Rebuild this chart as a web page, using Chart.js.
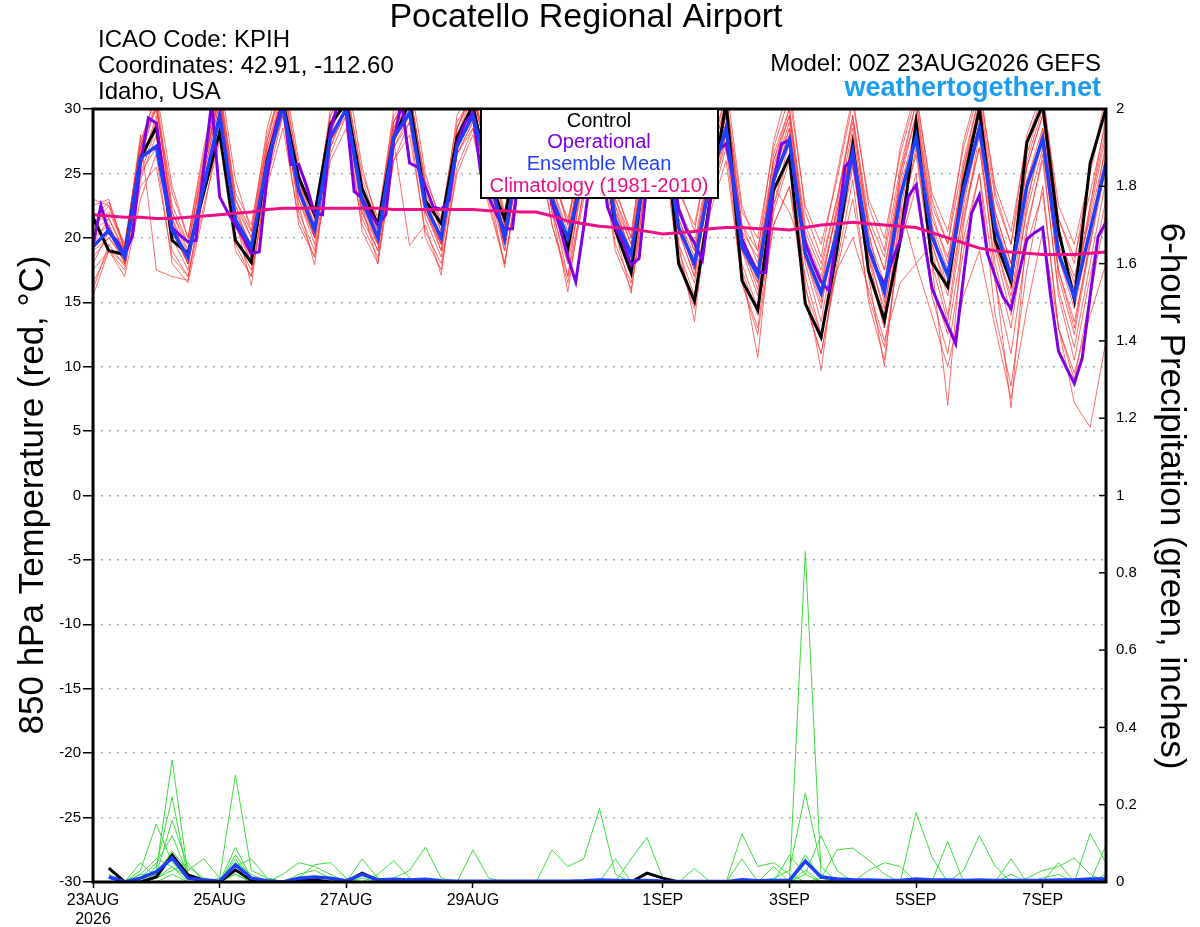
<!DOCTYPE html>
<html>
<head>
<meta charset="utf-8">
<script src="https://cdn.jsdelivr.net/npm/chart.js@4.4.1/dist/chart.umd.min.js"></script>
<style>
  html, body { margin: 0; padding: 0; background: #fff; }
  #wrap { width: 1200px; height: 927px; }
</style>
</head>
<body>
<div id="wrap"><canvas id="mycanvas" width="1200" height="927"></canvas></div>
<script>
// 6-hourly steps from 00Z 23AUG2026 (hours since start = index * 6)
var xTickHours = [0, 48, 96, 144, 216, 264, 312, 360];
var xTickLabels = [['23AUG', '2026'], '25AUG', '27AUG', '29AUG', '1SEP', '3SEP', '5SEP', '7SEP'];

// 850 hPa temperature, deg C
var control = [21.6,19.0,18.7,26.2,28.6,19.8,18.8,23.5,28.2,19.8,18.1,26.0,30.5,24.7,21.8,28.8,30.5,23.8,21.0,27.8,30.5,22.9,21.1,27.8,30.3,24.5,21.5,28.0,30.5,22.9,19.2,26.0,30.5,20.6,17.3,27.0,30.5,18.0,15.1,23.0,30.5,16.7,14.4,23.7,26.3,14.9,12.3,19.0,27.2,17.4,13.6,19.8,29.0,18.1,16.2,24.3,30.0,19.8,16.6,27.4,30.3,20.6,15.2,25.8,30.0];
var ensMean = [19.3,20.6,18.5,26.2,27.1,20.6,18.5,24.0,29.5,21.4,19.3,25.8,30.2,23.7,20.6,27.8,30.0,22.9,20.0,27.8,29.7,22.5,20.0,27.1,29.5,25.0,20.0,27.0,29.5,23.0,20.0,25.0,29.0,21.4,18.7,26.0,29.0,20.8,18.0,24.5,28.5,19.3,17.1,24.5,27.6,18.8,15.7,20.4,26.7,19.3,15.8,23.2,27.8,20.1,17.1,23.7,28.5,20.8,17.0,24.0,27.7,18.8,15.4,20.6,25.8];
var climo = [21.8,21.7,21.6,21.6,21.5,21.5,21.6,21.7,21.8,21.9,22.0,22.2,22.3,22.3,22.3,22.3,22.3,22.3,22.3,22.2,22.2,22.2,22.2,22.2,22.2,22.1,22.1,22.0,22.0,21.7,21.3,21.1,20.9,20.8,20.7,20.5,20.3,20.4,20.5,20.7,20.8,20.8,20.7,20.7,20.6,20.8,21.0,21.1,21.2,21.1,21.0,20.9,20.8,20.4,20.0,19.6,19.2,19.0,18.9,18.8,18.7,18.7,18.7,18.8,18.9];
// operational run is 3-hourly
var operational = [19.4,22.5,20.4,19.8,18.7,20.2,25.8,29.3,28.9,24.5,20.8,20.2,19.7,19.8,25.4,30.5,23.2,22.0,21.0,20.0,18.8,18.9,24.7,28.4,30.5,25.7,25.7,24.0,21.9,21.8,28.4,30.5,29.7,23.6,23.1,21.9,21.0,21.8,27.6,30.5,25.8,25.5,24.0,22.4,22.2,22.9,27.3,28.9,29.7,25.0,23.2,21.8,20.7,20.7,26.0,29.0,30.0,26.0,22.7,20.8,18.5,16.6,20.8,25.5,28.0,22.4,20.8,19.6,17.9,18.4,24.3,28.0,30.0,27.0,22.2,20.6,19.6,18.3,22.9,26.8,27.3,24.3,19.9,18.5,17.3,17.3,24.5,27.3,27.6,22.9,19.6,18.0,16.6,15.9,20.3,25.5,26.2,22.5,19.2,17.5,16.4,18.3,19.8,23.2,24.1,20.0,16.1,14.6,13.2,11.8,17.0,21.9,23.3,18.8,17.0,15.4,14.5,17.2,19.9,20.4,20.8,15.5,11.2,9.9,8.7,10.7,15.5,20.1,21.2];

// ensemble members
var ens01 = [21.5,22.8,19.2,27.5,31.0,22.5,19.6,26.0,32.0,23.0,20.5,27.5,32.5,25.0,21.5,29.5,32.0,24.5,21.0,29.0,31.5,24.0,21.0,28.5,31.5,26.5,21.5,28.5,31.5,24.5,21.5,27.0,31.0,23.0,20.0,28.0,31.0,22.5,19.5,26.5,31.0,21.0,19.0,26.0,30.0,21.0,18.0,23.0,29.5,21.5,18.5,25.5,30.5,22.5,19.5,26.0,31.0,23.0,19.5,26.5,30.5,21.5,18.5,23.5,29.0];
var ens02 = [16.0,19.5,17.8,24.0,25.5,18.5,17.0,22.5,27.5,19.0,17.0,24.0,28.5,21.5,18.5,26.0,28.5,21.0,18.5,26.0,28.0,20.5,18.0,25.0,28.0,23.0,18.0,25.0,27.5,21.0,16.5,23.0,27.0,19.0,16.0,23.5,27.0,18.0,14.5,22.0,26.0,16.5,12.5,21.0,24.0,15.0,11.0,17.5,23.0,15.5,11.5,19.5,24.0,16.5,12.5,20.0,25.0,16.5,11.0,19.5,23.5,13.0,9.5,14.0,18.0];
var ens03 = [20.0,21.0,18.0,26.5,28.5,21.0,18.0,25.0,30.5,22.0,19.0,26.5,31.0,24.0,20.5,28.5,31.0,23.5,20.0,28.5,30.5,23.0,19.5,27.5,30.5,25.0,19.5,27.0,30.0,23.0,18.5,25.0,29.5,20.5,17.5,25.5,29.0,19.5,16.5,23.0,28.0,18.0,14.5,21.0,24.0,17.0,12.5,17.5,20.0,16.0,12.0,16.5,18.0,14.0,10.0,15.5,19.0,13.0,7.5,14.5,20.5,13.0,7.2,5.3,12.0];
var ens04 = [18.5,20.0,18.5,25.5,29.5,20.0,17.5,25.5,31.5,21.0,18.0,26.0,31.5,23.0,19.5,28.0,31.5,22.0,19.5,28.5,32.0,22.0,19.5,28.5,31.5,25.5,20.0,28.5,31.0,23.5,19.5,26.5,30.5,22.0,19.0,27.0,30.5,21.5,18.5,25.5,30.0,20.0,17.5,25.5,29.5,19.5,16.5,22.0,28.5,20.0,16.5,24.5,29.5,21.0,17.5,25.0,30.5,21.5,17.5,25.5,29.5,19.5,16.0,22.0,28.0];
var ens05 = [22.5,23.0,19.0,28.0,17.5,17.0,16.7,24.0,29.0,21.5,16.3,25.0,30.0,22.5,17.9,27.0,30.5,22.5,18.0,27.5,19.4,21.0,17.1,26.5,29.0,24.0,17.7,26.0,29.5,22.0,15.8,24.0,29.0,20.5,15.7,25.0,29.5,19.5,13.5,24.0,29.0,17.5,10.7,22.5,27.5,16.5,9.7,19.0,26.0,17.0,10.0,21.0,27.0,18.0,7.0,21.0,28.0,17.0,6.8,20.5,26.5,15.5,10.5,17.0,23.0];
var ens06 = [19.5,21.5,19.0,27.0,30.5,22.0,19.5,25.5,31.0,22.5,20.0,27.0,31.0,24.5,21.0,28.5,30.5,24.0,21.0,28.0,30.5,23.5,20.5,28.0,30.0,26.0,21.0,28.0,30.5,24.0,20.5,26.5,30.0,22.5,19.5,27.0,30.0,22.0,19.0,25.5,29.5,20.5,18.5,25.0,28.5,20.0,17.0,22.0,27.5,21.0,17.5,24.0,28.5,21.5,18.5,24.5,29.5,22.0,18.0,24.5,28.5,20.0,17.0,21.5,27.0];
var ens07 = [17.5,19.0,17.5,24.5,28.0,19.0,17.0,23.5,30.0,20.0,17.5,25.5,30.5,22.0,19.0,27.0,30.0,21.5,19.0,27.0,29.5,21.5,18.5,26.5,29.0,24.0,19.0,26.5,29.0,22.0,18.0,24.5,28.5,20.5,17.0,25.0,28.5,19.0,15.5,23.0,27.5,17.5,14.0,22.5,26.5,16.0,12.5,19.0,25.5,17.5,13.0,21.5,26.5,18.0,13.5,21.5,27.0,18.0,13.0,21.0,26.0,16.0,11.5,18.0,24.5];
var ens08 = [21.0,22.0,19.5,27.5,30.0,23.5,20.0,26.5,31.5,23.5,21.0,28.0,32.0,25.5,22.0,29.5,31.5,25.0,21.5,29.5,31.0,24.5,21.5,29.0,31.0,27.0,22.0,29.0,31.0,25.0,21.0,27.5,31.5,23.5,20.5,28.5,31.5,23.5,21.0,27.0,31.0,22.0,20.0,27.0,31.0,22.5,19.5,24.5,30.5,23.0,20.0,26.5,31.0,23.5,20.5,27.0,31.5,24.0,20.5,27.5,31.0,22.5,19.5,25.0,30.5];
var ens09 = [18.0,20.5,18.0,25.0,27.0,20.5,18.0,24.5,29.0,21.0,18.5,25.5,29.5,23.0,20.0,27.5,29.5,22.5,19.5,27.0,29.0,22.0,19.5,26.5,28.5,24.5,19.5,26.5,28.5,22.5,19.0,25.0,28.5,21.5,18.5,26.0,28.5,21.0,17.5,24.0,28.0,19.0,16.5,24.0,22.0,18.5,15.0,20.5,26.0,18.5,14.5,22.5,18.0,19.5,15.5,22.0,27.0,19.5,15.0,22.0,27.0,17.5,13.5,19.5,25.5];
var ens10 = [20.5,21.5,18.8,26.0,29.0,21.5,18.8,25.0,30.5,22.0,19.5,26.5,31.0,24.0,20.5,28.5,31.0,23.0,20.0,28.0,30.5,23.0,20.0,27.5,30.0,25.5,20.5,27.5,30.0,23.5,20.0,26.0,30.0,22.0,19.0,26.5,30.0,21.5,18.0,25.0,29.5,20.0,17.5,25.0,29.0,19.0,15.5,21.0,27.0,19.5,15.5,23.0,28.0,20.5,17.0,24.0,29.0,20.5,16.5,24.0,28.0,18.5,14.5,20.5,26.0];
var ens11 = [16.5,19.0,17.0,23.0,26.5,18.0,16.5,22.0,28.5,19.5,17.0,24.5,29.5,21.0,18.5,26.5,29.5,20.5,18.0,26.0,29.0,20.0,17.5,25.5,28.5,22.5,18.0,25.5,28.5,21.0,17.0,23.5,28.0,19.5,16.5,24.5,28.0,18.5,15.0,22.5,27.0,16.5,13.0,22.0,26.0,15.0,11.0,18.0,24.5,15.0,10.5,20.0,25.0,15.5,11.0,19.0,25.0,14.0,8.5,17.5,24.0,13.0,9.0,15.5,22.0];
var ens12 = [23.0,22.5,19.5,27.0,31.5,24.0,20.0,27.0,32.5,24.5,20.5,28.5,33.0,26.0,21.5,30.0,33.0,25.5,21.0,30.0,32.5,25.0,21.0,29.5,32.0,27.5,21.5,29.5,32.0,25.5,21.0,28.0,32.0,24.0,20.0,29.0,32.0,24.0,20.5,27.5,32.0,22.5,19.0,27.5,32.0,22.0,18.5,25.0,31.0,22.5,19.0,27.0,31.5,23.0,19.5,27.5,32.0,23.5,19.5,28.0,31.5,21.5,18.0,25.5,31.0];
var ens13 = [15.5,19.0,18.0,25.5,29.0,21.0,18.5,24.0,30.0,21.5,18.0,25.0,30.5,23.5,20.0,28.0,30.0,23.0,19.5,27.5,30.0,22.5,19.0,27.0,29.5,25.0,19.0,26.5,29.5,22.5,17.0,25.5,30.0,21.5,18.0,26.0,29.5,20.5,17.0,24.5,29.5,19.0,15.5,24.0,28.5,18.0,13.5,20.5,28.0,18.5,13.0,22.0,28.5,19.0,14.0,22.5,28.5,19.0,14.0,22.5,28.5,17.0,12.5,19.5,26.5];
var ens14 = [22.0,21.0,18.5,26.0,30.5,21.5,18.0,25.5,31.0,22.5,19.0,27.0,31.5,24.5,20.0,29.0,31.0,23.0,20.5,29.0,31.0,23.0,19.5,28.0,31.0,26.0,20.0,28.0,30.5,23.5,19.0,26.0,30.5,22.5,18.5,27.5,30.5,21.0,17.5,26.0,30.5,20.5,16.5,26.5,30.0,20.0,16.0,22.5,29.5,20.5,15.0,25.0,30.5,21.0,16.0,25.5,31.0,21.5,16.0,26.0,30.0,19.0,15.0,22.5,29.5];
var ens15 = [19.0,20.0,18.2,25.0,28.5,20.5,18.0,24.5,29.5,21.5,18.5,25.5,30.0,23.5,20.0,27.5,30.0,22.0,19.0,27.5,29.5,22.0,19.0,27.0,29.5,24.5,19.5,27.0,29.5,23.0,19.0,25.5,29.5,21.5,18.5,26.0,29.5,20.5,17.0,24.5,29.0,19.5,16.0,24.5,28.0,18.5,14.5,21.5,27.5,19.0,14.0,23.0,27.5,19.5,16.0,23.0,28.5,19.5,15.5,23.0,27.5,17.5,13.0,20.0,27.5];
var ens16 = [21.0,22.5,19.0,27.0,30.0,22.0,19.0,26.0,31.0,23.0,20.0,27.5,32.0,24.5,21.0,29.0,31.5,24.0,20.5,29.0,31.5,24.0,20.5,28.5,31.0,26.0,21.0,28.5,31.0,24.0,20.0,27.0,30.5,23.0,19.5,27.5,30.5,22.5,19.0,26.0,30.5,21.0,18.0,26.0,29.5,20.5,17.5,23.0,29.0,21.0,17.5,25.0,29.5,22.0,18.0,25.5,30.0,22.0,18.0,25.5,29.5,20.0,16.5,22.5,28.5];
var members = [ens01, ens02, ens03, ens04, ens05, ens06, ens07, ens08, ens09, ens10, ens11, ens12, ens13, ens14, ens15, ens16];

// 6-hour precipitation, inches, valid 06Z 23AUG onward
var pcpControl = [0.036,0,0,0.013,0.07,0.018,0.005,0,0.031,0.005,0,0,0.005,0.005,0,0,0.023,0.005,0,0.005,0.003,0,0,0,0,0,0,0,0,0,0,0,0,0,0.023,0.01,0,0,0,0,0,0,0,0,0,0,0,0,0,0,0,0,0,0,0,0,0,0,0,0,0,0,0,0];
var pcpMean = [0.013,0,0.01,0.026,0.062,0.01,0.005,0.002,0.044,0.01,0.003,0,0.01,0.013,0.01,0.003,0.02,0.005,0.007,0.005,0.007,0.003,0.002,0.002,0.002,0.002,0.002,0.002,0.002,0.002,0.003,0.005,0.004,0.003,0.004,0.002,0.001,0.001,0.001,0.001,0.006,0.003,0.004,0.004,0.054,0.013,0.008,0.006,0.005,0.004,0.004,0.008,0.005,0.005,0.004,0.005,0.004,0.004,0.004,0.004,0.005,0.005,0.008,0.008];
var pcp01 = [0.01,0,0.02,0.06,0.04,0.01,0,0.01, 0.277,0.03,0.01,0,0,0.01,0,0, 0.01,0,0,0,0,0,0,0, 0,0,0,0,0,0,0,0, 0,0,0,0,0,0,0,0, 0,0,0,0,0.855,0.02,0,0, 0,0,0,0,0,0,0,0, 0,0,0,0,0,0,0,0];
var pcp02 = [0,0,0.01,0.03,0.316,0.02,0,0, 0.07,0.01,0,0,0,0,0,0, 0.06,0.01,0,0,0,0,0,0, 0,0,0,0,0,0,0,0, 0,0,0,0,0,0,0,0, 0,0,0,0.07,0.02,0.12,0.03,0, 0,0,0,0,0,0,0,0, 0,0,0,0.01,0.02,0,0,0];
var pcp03 = [0.02,0,0,0.04,0.22,0.01,0,0, 0.05,0.02,0,0,0.02,0.03,0.01,0, 0.02,0,0.01,0.03,0.09,0.01,0,0, 0,0,0,0,0,0,0,0, 0,0.06,0.115,0.01,0,0,0,0, 0,0,0,0,0.03,0,0,0, 0,0,0,0,0,0,0,0, 0,0,0.01,0.03,0.04,0.062,0.02,0];
var pcp04 = [0,0,0.02,0.02,0.16,0.04,0.01,0, 0.04,0.06,0.01,0,0,0,0,0, 0,0,0,0,0,0,0,0, 0,0,0,0,0,0,0,0, 0,0,0,0,0,0,0,0, 0.125,0.04,0.05,0.02,0,0.01,0.083,0.088, 0.057,0.02,0,0,0,0,0,0, 0,0,0,0,0,0,0,0];
var pcp05 = [0,0,0.01,0.05,0.12,0.02,0,0, 0.09,0.01,0,0,0,0,0,0, 0,0.02,0.055,0.01,0,0,0,0, 0,0,0,0,0,0,0,0, 0,0,0,0,0,0,0,0, 0.06,0,0,0,0,0,0,0, 0.03,0.05,0.04,0,0,0,0,0, 0,0,0,0,0,0,0.125,0.05];
var pcp06 = [0.01,0,0,0.02,0.08,0.03,0.06,0.01, 0.04,0.01,0,0,0,0,0,0, 0,0,0,0,0,0,0,0.083, 0.01,0,0,0,0,0,0,0, 0,0,0,0,0,0,0,0, 0,0,0.01,0.03,0.23,0.04,0,0, 0,0,0,0,0,0,0,0, 0,0,0,0,0,0,0,0.096];
var pcp07 = [0,0,0.03,0.15,0.05,0.01,0,0, 0.03,0,0,0.02,0.05,0.04,0.02,0, 0.02,0.01,0,0,0,0,0,0, 0,0,0,0,0,0,0,0, 0,0,0,0,0,0,0,0, 0,0,0,0,0.07,0.01,0,0, 0,0,0,0.18,0.065,0,0,0, 0,0.02,0,0,0,0,0,0];
var pcp08 = [0,0,0.05,0.01,0.04,0,0,0, 0.06,0,0,0,0.01,0.045,0.05,0.01, 0,0,0,0,0,0,0,0, 0,0,0,0,0.083,0.04,0.06,0.19, 0.02,0,0,0,0,0,0,0, 0,0,0,0,0,0,0,0, 0,0,0,0,0,0,0,0, 0,0,0,0,0,0,0,0];
var pcp09 = [0,0,0,0.01,0.03,0.05,0,0, 0.02,0,0,0,0,0,0,0, 0,0,0,0,0,0,0,0, 0,0,0,0,0,0,0,0, 0,0,0,0,0,0.035,0,0, 0,0,0.04,0,0,0,0,0, 0,0,0,0,0,0.105,0,0, 0,0.06,0,0,0,0,0,0];
var pcp10 = [0.01,0,0,0,0.02,0,0,0, 0.02,0,0,0,0,0,0,0, 0,0,0,0,0,0,0,0, 0,0,0,0,0,0,0,0, 0.06,0,0,0,0,0,0,0, 0,0,0,0,0.02,0,0,0, 0,0,0,0,0,0,0.03,0.12, 0.04,0,0,0,0.05,0,0,0.02];
var pcpMembers = [pcp01, pcp02, pcp03, pcp04, pcp05, pcp06, pcp07, pcp08, pcp09, pcp10];

var FONT = "'Liberation Sans', Arial, sans-serif";

function pts(arr, step, start) {
    return arr.map(function(v, i) { return {x: (i + start) * step, y: v}; });
}

var datasets = [];
members.forEach(function(m) {
    datasets.push({data: pts(m, 6, 0), borderColor: 'rgba(255,50,50,0.7)', borderWidth: 1, yAxisID: 'y', order: 6});
});
pcpMembers.forEach(function(m) {
    datasets.push({data: pts(m, 6, 1), borderColor: '#3ddc3d', borderWidth: 1, yAxisID: 'y2', order: 5});
});
datasets.push({data: pts(pcpControl, 6, 1), borderColor: '#000', borderWidth: 3, yAxisID: 'y2', order: 4});
datasets.push({data: pts(pcpMean, 6, 1), borderColor: '#1f3fff', borderWidth: 3.5, yAxisID: 'y2', order: 3});
datasets.push({data: pts(control, 6, 0), borderColor: '#000', borderWidth: 3, yAxisID: 'y', order: 4});
datasets.push({data: pts(operational, 3, 0), borderColor: '#8000e6', borderWidth: 3, yAxisID: 'y', order: 3});
datasets.push({data: pts(ensMean, 6, 0), borderColor: '#1f3fff', borderWidth: 3.5, yAxisID: 'y', order: 2});
datasets.push({data: pts(climo, 6, 0), borderColor: '#ec0f85', borderWidth: 3, yAxisID: 'y', order: 1});

function txt(ctx, s, x, y, font, color, align) {
    ctx.font = font;
    ctx.fillStyle = color;
    ctx.textAlign = align || 'left';
    ctx.textBaseline = 'middle';
    ctx.fillText(s, x, y);
}

var overlay = {
    id: 'overlay',
    afterDatasetsDraw: function(chart) {
        var ctx = chart.ctx, a = chart.chartArea;
        ctx.save();
        // inward ticks on the precipitation axis
        var y2 = chart.scales.y2;
        ctx.strokeStyle = '#000';
        ctx.lineWidth = 1.5;
        y2.ticks.forEach(function(t) {
            var py = y2.getPixelForValue(t.value);
            ctx.beginPath();
            ctx.moveTo(a.right - 7, py);
            ctx.lineTo(a.right, py);
            ctx.stroke();
        });
        // frame
        ctx.lineWidth = 3;
        ctx.strokeRect(a.left, a.top, a.right - a.left, a.bottom - a.top);
        // legend box
        ctx.fillStyle = '#fff';
        ctx.fillRect(481, a.top, 237, 89);
        ctx.lineWidth = 2;
        ctx.strokeRect(481, a.top, 237, 89);
        var lf = '20px ' + FONT;
        txt(ctx, 'Control', 599, 121, lf, '#000', 'center');
        txt(ctx, 'Operational', 599, 142, lf, '#8000e6', 'center');
        txt(ctx, 'Ensemble Mean', 599, 164, lf, '#1f3fff', 'center');
        txt(ctx, 'Climatology (1981-2010)', 599, 186, lf, '#ec0f85', 'center');
        ctx.restore();
    },
    afterDraw: function(chart) {
        var ctx = chart.ctx;
        ctx.save();
        txt(ctx, 'Pocatello Regional Airport', 586, 18, '34px ' + FONT, '#000', 'center');
        txt(ctx, 'ICAO Code: KPIH', 98, 40, '24px ' + FONT, '#000');
        txt(ctx, 'Coordinates: 42.91, -112.60', 98, 66, '24px ' + FONT, '#000');
        txt(ctx, 'Idaho, USA', 98, 92, '24px ' + FONT, '#000');
        txt(ctx, 'Model: 00Z 23AUG2026 GEFS', 1101, 64, '24px ' + FONT, '#000', 'right');
        txt(ctx, 'weathertogether.net', 1101, 89, 'bold 27px ' + FONT, '#1a9cf0', 'right');

        ctx.translate(33, 495);
        ctx.rotate(-Math.PI / 2);
        txt(ctx, '850 hPa Temperature (red, \u00B0C)', 0, 0, '35px ' + FONT, '#000', 'center');
        ctx.restore();

        ctx.save();
        ctx.translate(1171, 496);
        ctx.rotate(Math.PI / 2);
        txt(ctx, '6-hour Precipitation (green, inches)', 0, 0, '35px ' + FONT, '#000', 'center');
        ctx.restore();
    }
};

var ctx = document.getElementById('mycanvas');
var chart = new Chart(ctx, {
    type: 'line',
    data: {datasets: datasets},
    plugins: [overlay],
    options: {
        responsive: false,
        animation: false,
        devicePixelRatio: 1,
        layout: {padding: {top: 109, left: 0, right: 0, bottom: 0}},
        elements: {
            point: {radius: 0},
            line: {tension: 0, fill: false}
        },
        plugins: {
            legend: {display: false},
            tooltip: {enabled: false},
            title: {display: false}
        },
        scales: {
            x: {
                type: 'linear',
                min: 0,
                max: 384,
                afterFit: function(s) { s.height = 45; },
                afterBuildTicks: function(s) {
                    s.ticks = xTickHours.map(function(h) { return {value: h}; });
                },
                ticks: {
                    autoSkip: false,
                    maxRotation: 0,
                    padding: 3,
                    color: '#000',
                    font: {family: FONT, size: 16},
                    callback: function(v, i) { return xTickLabels[i]; }
                },
                grid: {drawOnChartArea: false, drawTicks: true, tickLength: 6, tickColor: '#000', tickWidth: 1.5},
                border: {display: false}
            },
            y: {
                position: 'left',
                min: -30,
                max: 30,
                afterFit: function(s) { s.width = 93; },
                ticks: {
                    stepSize: 5,
                    padding: 2,
                    color: '#000',
                    font: {family: FONT, size: 15},
                    callback: function(v) { return String(v); }
                },
                grid: {color: '#a8a8a8', lineWidth: 1.5, tickLength: 10, tickColor: '#000', tickWidth: 1.5},
                border: {display: false, dash: [2, 6]}
            },
            y2: {
                position: 'right',
                min: 0,
                max: 2,
                afterFit: function(s) { s.width = 94; },
                ticks: {
                    stepSize: 0.2,
                    padding: 10,
                    color: '#000',
                    font: {family: FONT, size: 15},
                    callback: function(v) { return String(Math.round(v * 10) / 10); }
                },
                grid: {drawOnChartArea: false, drawTicks: false},
                border: {display: false}
            }
        }
    }
});
</script>
</body>
</html>
